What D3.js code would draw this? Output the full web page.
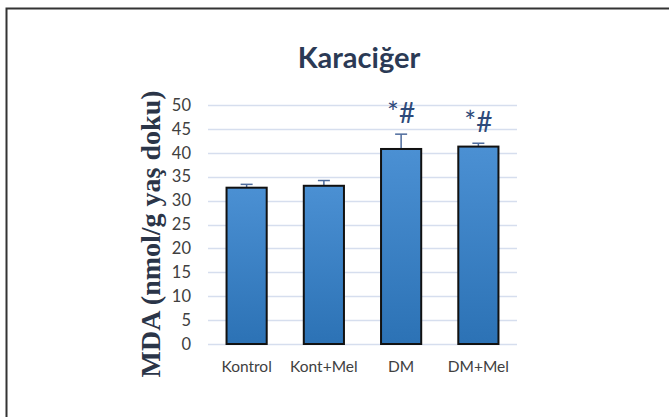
<!DOCTYPE html>
<html>
<head>
<meta charset="utf-8">
<script src="https://cdn.jsdelivr.net/npm/d3@7"></script>
<style>
  body { margin: 0; background: #fff; }
  svg { display: block; }
</style>
</head>
<body>
<div id="chart"></div>
<script>
const groups = ["Kontrol", "Kont+Mel", "DM", "DM+Mel"];
const means = [32.7, 33.1, 40.8, 41.3];
const errors = [0.7, 1.1, 3.1, 0.7];
const marks = ["", "", "*#", "*#"];
const yTicks = [0, 5, 10, 15, 20, 25, 30, 35, 40, 45, 50];

const W = 669, H = 417;
const margin = { top: 105, right: 152, bottom: 73, left: 208 };
const width = W - margin.left - margin.right;
const height = H - margin.top - margin.bottom;

const svg = d3.select("#chart").append("svg")
  .attr("width", W)
  .attr("height", H);

// frame
svg.append("path")
  .attr("d", `M6.5,${H} V8.5 H${W}`)
  .attr("fill", "none")
  .attr("stroke", "#333")
  .attr("stroke-width", 2);

const defs = svg.append("defs");
const grad = defs.append("linearGradient")
  .attr("id", "barGrad")
  .attr("x1", 0).attr("y1", 0).attr("x2", 0).attr("y2", 1);
grad.append("stop").attr("offset", "0%").attr("stop-color", "#4b90d3");
grad.append("stop").attr("offset", "100%").attr("stop-color", "#2c72b5");

const g = svg.append("g").attr("transform", `translate(${margin.left},${margin.top})`);

const x = d3.scaleBand().domain(groups).range([0, width]).paddingInner(0.48).paddingOuter(0.24);
const y = d3.scaleLinear().domain([0, 50]).range([height, 0]);

// gridlines
g.append("g")
  .selectAll("line")
  .data(yTicks)
  .enter()
  .append("line")
  .attr("x1", 0)
  .attr("x2", width)
  .attr("y1", (d) => Math.round(y(d)) + 0.5)
  .attr("y2", (d) => Math.round(y(d)) + 0.5)
  .attr("stroke", "#d6deee")
  .attr("stroke-width", 1.5);

// y axis labels
const yAxis = d3.axisLeft(y).tickValues(yTicks).tickSize(0).tickPadding(17);
g.append("g")
  .call(yAxis)
  .call((s) => s.select(".domain").remove())
  .selectAll("text")
  .attr("font-family", "Lato, 'Open Sans', sans-serif")
  .attr("font-size", 16.5)
  .attr("fill", "#404040");

// x axis labels
const xAxis = d3.axisBottom(x).tickSize(0).tickPadding(17);
g.append("g")
  .attr("transform", `translate(0,${height})`)
  .call(xAxis)
  .call((s) => s.select(".domain").remove())
  .selectAll("text")
  .attr("font-family", "Lato, 'Open Sans', sans-serif")
  .attr("font-size", 15.5)
  .attr("fill", "#404040");

// error bars
const err = g.append("g").selectAll("g")
  .data(groups)
  .enter()
  .append("g")
  .attr("stroke", "#4d6b9c")
  .attr("stroke-width", 1.5);
err.append("line")
  .attr("x1", (d) => x(d) + x.bandwidth() / 2)
  .attr("x2", (d) => x(d) + x.bandwidth() / 2)
  .attr("y1", (d, i) => y(means[i]))
  .attr("y2", (d, i) => y(means[i] + errors[i]));
err.append("line")
  .attr("x1", (d) => x(d) + x.bandwidth() / 2 - 6)
  .attr("x2", (d) => x(d) + x.bandwidth() / 2 + 6)
  .attr("y1", (d, i) => y(means[i] + errors[i]))
  .attr("y2", (d, i) => y(means[i] + errors[i]));

// bars
g.append("g")
  .selectAll("rect")
  .data(groups)
  .enter()
  .append("rect")
  .attr("x", (d) => x(d))
  .attr("y", (d, i) => y(means[i]))
  .attr("width", x.bandwidth())
  .attr("height", (d, i) => height - y(means[i]))
  .attr("fill", "url(#barGrad)")
  .attr("stroke", "#111")
  .attr("stroke-width", 2);

// significance marks
g.append("g")
  .selectAll("text")
  .data(groups)
  .enter()
  .append("text")
  .attr("x", (d) => x(d) + x.bandwidth() / 2)
  .attr("y", (d, i) => y(means[i] + errors[i]) - 11)
  .attr("text-anchor", "middle")
  .attr("font-family", "Lato, 'Open Sans', sans-serif")
  .attr("font-size", 28)
  .attr("fill", "#2e4a7a")
  .text((d, i) => marks[i]);

// title
svg.append("text")
  .attr("x", 359)
  .attr("y", 68)
  .attr("text-anchor", "middle")
  .attr("font-family", "Lato, 'Open Sans', sans-serif")
  .attr("font-weight", "bold")
  .attr("font-size", 29)
  .attr("fill", "#2b3a55")
  .text("Karaciğer");

// y axis title
svg.append("text")
  .attr("transform", `translate(160,234) rotate(-90)`)
  .attr("text-anchor", "middle")
  .attr("font-family", "'Liberation Serif', 'DejaVu Serif', serif")
  .attr("font-weight", "bold")
  .attr("font-size", 28)
  .attr("fill", "#2b3548")
  .text("MDA (nmol/g yaş doku)");
</script>
</body>
</html>
